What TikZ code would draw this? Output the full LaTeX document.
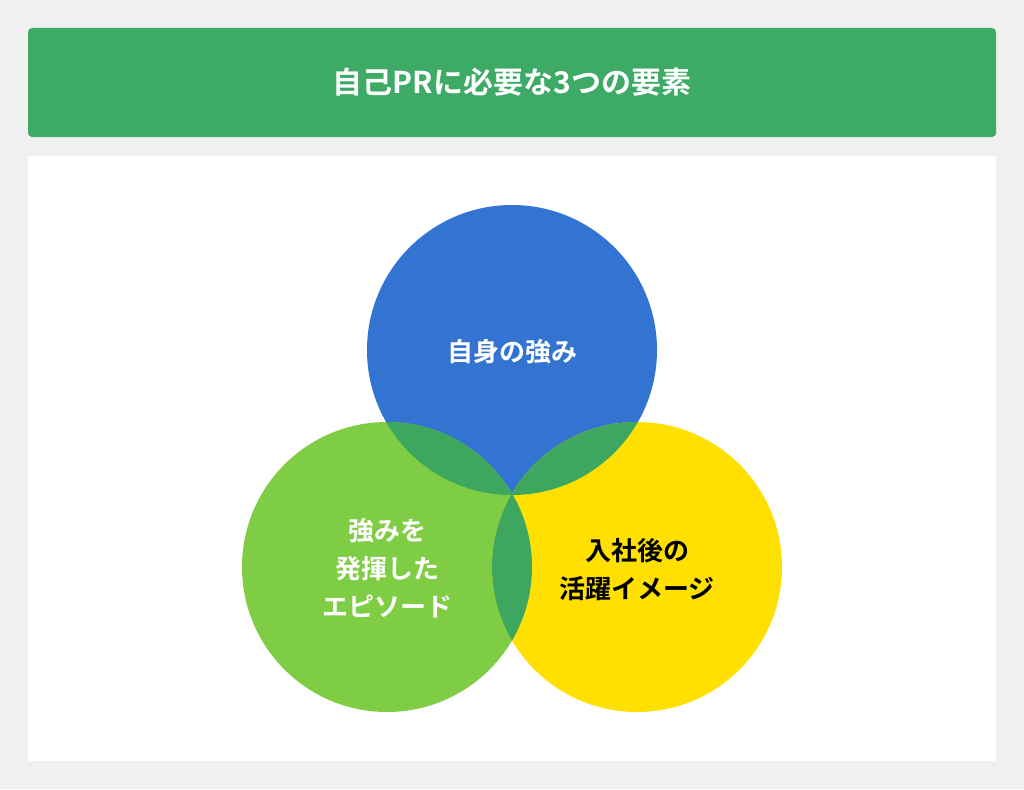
\documentclass[tikz,border=0pt]{standalone}
\usepackage{fontspec}
\newfontfamily\cjk{Noto Sans CJK JP Bold}
\definecolor{bg}{HTML}{F0F0F0}
\definecolor{hdr}{HTML}{3DAA66}
\definecolor{cblue}{HTML}{3373D1}
\definecolor{cgreen}{HTML}{7FCC45}
\definecolor{cyellow}{HTML}{FFE000}
\definecolor{cover}{HTML}{3DA760}
\begin{document}
\begin{tikzpicture}[x=1pt,y=-1pt,
  lbl/.style={font=\cjk\fontsize{26}{38}\selectfont,align=center}]
\useasboundingbox (0,0) rectangle (1024,789);
\fill[bg] (0,0) rectangle (1024,789);
\fill[hdr,rounded corners=4pt] (28,28) rectangle (996,137);
\node[font=\cjk\fontsize{30}{36}\selectfont,text=white] (title) at (512,82) {自己PRに必要な3つの要素};
\fill[white] (28,156) rectangle (996,761);
\coordinate (cb) at (512,350);
\coordinate (cg) at (387,567);
\coordinate (cy) at (637,567);
\fill[cblue] (cb) circle (145);
\fill[cgreen] (cg) circle (145);
\fill[cyellow] (cy) circle (145);
\begin{scope}\clip (cb) circle (145); \fill[cover] (cg) circle (145); \fill[cover] (cy) circle (145);\end{scope}
\begin{scope}\clip (cg) circle (145); \fill[cover] (cy) circle (145);\end{scope}
\node[lbl,text=white] (tb) at (512,352) {自身の強み};
\node[lbl,text=white] (tg) at (387,568) {強みを\\発揮した\\エピソード};
\node[lbl,text=black] (ty) at (637,570) {入社後の\\活躍イメージ};
\end{tikzpicture}
\end{document}
